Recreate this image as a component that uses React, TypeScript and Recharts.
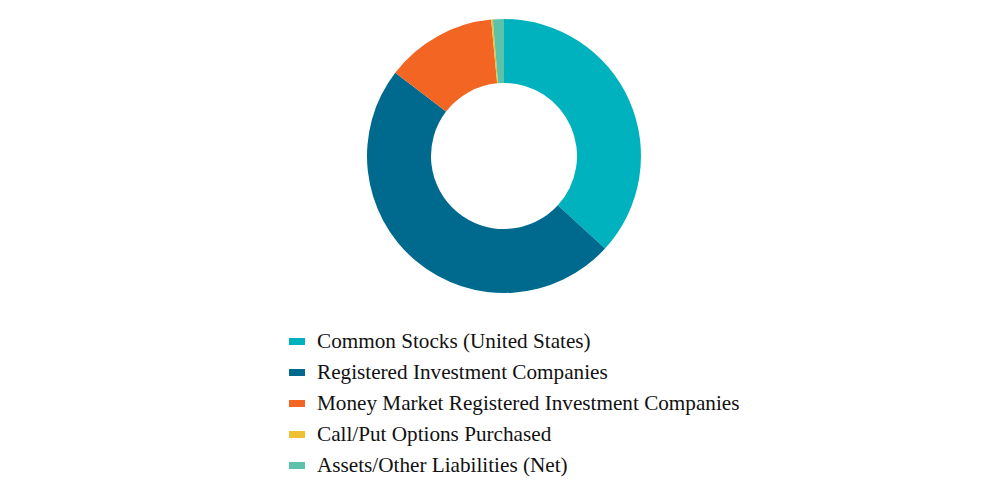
import { PieChart, Pie, Cell, Legend } from 'recharts';

const categories = [
  'Common Stocks (United States)',
  'Registered Investment Companies',
  'Money Market Registered Investment Companies',
  'Call/Put Options Purchased',
  'Assets/Other Liabilities (Net)',
];
const values = [36.8, 48.6, 13.1, 0.2, 1.3];
const colors = ['#00B2BD', '#006A8E', '#F26522', '#EEC132', '#5CC2AA'];

const data = categories.map((name, i) => ({ name, value: values[i] }));

function LegendList() {
  return (
    <div>
      {categories.map((name, i) => (
        <div
          key={name}
          style={{ display: 'flex', alignItems: 'center', height: 31 }}
        >
          <span
            style={{
              display: 'inline-block',
              width: 16,
              height: 7,
              background: colors[i],
              marginRight: 12,
            }}
          />
          <span
            style={{
              fontFamily: '"Times New Roman", Times, "Liberation Serif", serif',
              fontSize: 21.2,
              color: '#111',
            }}
          >
            {name}
          </span>
        </div>
      ))}
    </div>
  );
}

export default function App() {
  return (
    <div style={{ width: 992, height: 472 }}>
      <PieChart width={992} height={472}>
        <Pie
          data={data}
          dataKey="value"
          nameKey="name"
          cx={491}
          cy={143}
          innerRadius={73}
          outerRadius={137}
          startAngle={90}
          endAngle={-270}
          stroke="none"
          isAnimationActive={false}
        >
          {data.map((d, i) => (
            <Cell key={d.name} fill={colors[i]} />
          ))}
        </Pie>
        <Legend
          content={<LegendList />}
          wrapperStyle={{ position: 'absolute', left: 281, top: 318, width: 520 }}
        />
      </PieChart>
    </div>
  );
}
